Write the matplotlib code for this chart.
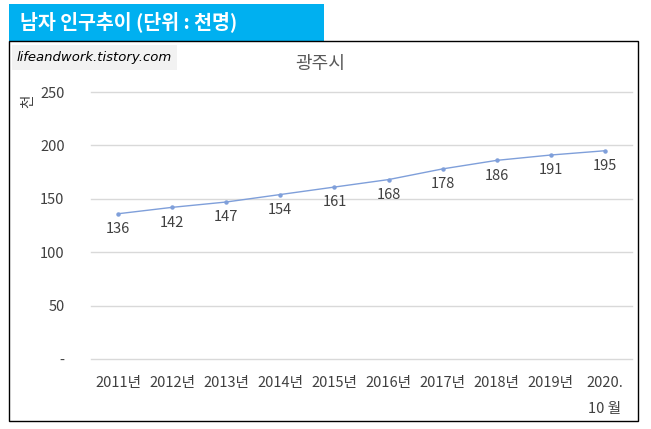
import matplotlib
matplotlib.use("Agg")
import matplotlib.pyplot as plt
from matplotlib.patches import Rectangle

plt.rcParams['font.family'] = ['Noto Sans CJK KR', 'DejaVu Sans']

categories = ['2011년', '2012년', '2013년', '2014년', '2015년', '2016년',
              '2017년', '2018년', '2019년', '2020.\n10 월']
values = [136, 142, 147, 154, 161, 168, 178, 186, 191, 195]
yticks = [0, 50, 100, 150, 200, 250]
ytick_labels = ['-', '50', '100', '150', '200', '250']

W, H = 651, 429
fig = plt.figure(figsize=(W / 100, H / 100), dpi=100)
fig.patch.set_facecolor('white')

def fx(x):
    return x / W

def fy(y):
    return 1 - y / H

# header box
fig.patches.append(Rectangle((fx(9), fy(41)), fx(324) - fx(9), fy(4) - fy(41),
                             transform=fig.transFigure, facecolor='#00B0F0',
                             edgecolor='none', zorder=0))
fig.text(fx(20), fy(22), '남자 인구추이 (단위 : 천명)', color='white', fontsize=14,
         fontweight='bold', va='center', ha='left')

# chart border
fig.patches.append(Rectangle((fx(9), fy(421)), fx(638) - fx(9), fy(41) - fy(421),
                             transform=fig.transFigure, facecolor='none',
                             edgecolor='black', linewidth=1.0, zorder=1))
# watermark box
fig.patches.append(Rectangle((fx(12), fy(70)), fx(177) - fx(12), fy(45) - fy(70),
                             transform=fig.transFigure, facecolor='#F2F2F2',
                             edgecolor='none', zorder=1))
fig.text(fx(17), fy(57), 'lifeandwork.tistory.com', color='black', fontsize=9.5,
         style='italic', va='center', ha='left', family='DejaVu Sans')

fig.text(fx(320), fy(64), '광주시', color='#595959', fontsize=13, va='center', ha='center')

ax = fig.add_axes([fx(91), fy(359), fx(632) - fx(91), fy(92) - fy(359)])
ax.set_facecolor('none')
x = list(range(len(categories)))
ax.plot(x, values, color='#7F9FDA', linewidth=1.0, marker='o', markersize=2.2,
        markerfacecolor='#7F9FDA', markeredgecolor='#7F9FDA', zorder=3)
for xi, v in zip(x, values):
    ax.annotate(str(v), (xi, v), xytext=(0, -11), textcoords='offset points',
                ha='center', va='center', fontsize=10.5, color='#404040')

ax.set_xlim(-0.5, len(categories) - 0.5)
ax.set_ylim(0, 250)
ax.set_yticks(yticks)
ax.set_yticklabels(ytick_labels)
ax.set_xticks(x)
ax.set_xticklabels(categories)
ax.grid(axis='y', color='#D9D9D9', linewidth=1.0)
for gl in ax.get_ygridlines():
    gl.set_clip_on(False)
ax.set_axisbelow(True)
for s in ax.spines.values():
    s.set_visible(False)
ax.tick_params(axis='both', length=0, colors='#404040', labelsize=10.5)
ax.tick_params(axis='y', pad=19)
ax.tick_params(axis='x', pad=12)
for lbl in ax.get_xticklabels():
    lbl.set_linespacing(2.1)

fig.text(fx(28), fy(101), '천', rotation=90, color='#404040', fontsize=10.5,
         va='center', ha='center')

fig.savefig('out.png', dpi=100)
